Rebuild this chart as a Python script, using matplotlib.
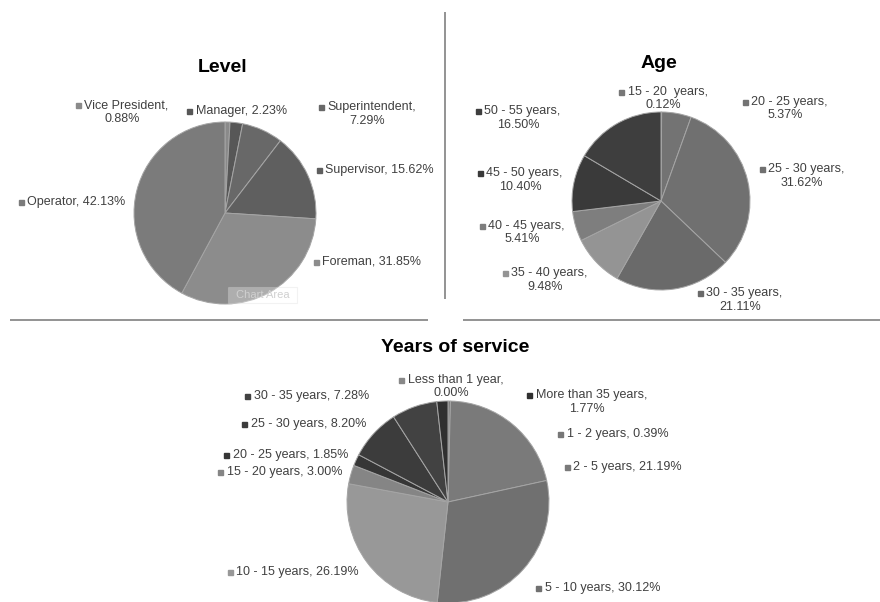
import matplotlib
matplotlib.use('agg')
import matplotlib.pyplot as plt

plt.rcParams['font.family'] = ['Liberation Sans', 'DejaVu Sans']

# data (clockwise from 12 o'clock)
level_names = ['Vice President', 'Manager', 'Superintendent', 'Supervisor', 'Foreman', 'Operator']
level_pcts = [0.88, 2.23, 7.29, 15.62, 31.85, 42.13]

age_names = ['15 - 20  years', '20 - 25 years', '25 - 30 years', '30 - 35 years',
             '35 - 40 years', '40 - 45 years', '45 - 50 years', '50 - 55 years']
age_pcts = [0.12, 5.37, 31.62, 21.11, 9.48, 5.41, 10.40, 16.50]

service_names = ['Less than 1 year', '1 - 2 years', '2 - 5 years', '5 - 10 years',
                 '10 - 15 years', '15 - 20 years', '20 - 25 years', '25 - 30 years',
                 '30 - 35 years', 'More than 35 years']
service_pcts = [0.00, 0.39, 21.19, 30.12, 26.19, 3.00, 1.85, 8.20, 7.28, 1.77]

# styles / layout (pixel coords, y down)
level_colors = ['#8a8a8a', '#575757', '#686868', '#5f5f5f', '#8c8c8c', '#7b7b7b']
age_colors = ['#777777', '#737373', '#707070', '#6a6a6a', '#949494', '#7e7e7e', '#3a3a3a', '#3e3e3e']
service_colors = ['#888888', '#777777', '#7a7a7a', '#707070', '#989898', '#858585',
                  '#363636', '#3c3c3c', '#424242', '#303030']

# label block centre x, first line y, wrapped onto two lines?
level_lab = [(122, 105, True), (237, 111, False), (367, 107, True),
             (375, 170, False), (367, 262, False), (72, 202, False)]
age_lab = [(663, 92, True), (785, 102, True), (802, 169, True), (740, 293, True),
           (545, 273, True), (522, 226, True), (520, 173, True), (518, 111, True)]
service_lab = [(451, 380, True), (613, 434, False), (623, 467, False), (598, 588, False),
               (293, 572, False), (280, 472, False), (286, 455, False), (304, 424, False),
               (307, 396, False), (587, 395, True)]

W, H = 880, 602
fig = plt.figure(figsize=(8.8, 6.02), dpi=100)
ax = fig.add_axes([0, 0, 1, 1])

TXT = '#404040'


def draw_pie(vals, colors, center, radius):
    # y axis is inverted, so start at -90 and go "counterclock" to look clockwise
    ax.pie(vals, colors=colors, center=center, radius=radius, startangle=-90,
           counterclock=True, normalize=True,
           wedgeprops=dict(edgecolor='#a5a5a5', linewidth=0.7))


draw_pie(level_pcts, level_colors, (225, 213), 91)
draw_pie(age_pcts, age_colors, (661, 201), 89)
draw_pie(service_pcts, service_colors, (448, 502), 101)

ax.set_xlim(0, W)
ax.set_ylim(H, 0)
ax.set_aspect('equal')
ax.axis('off')

# titles
ax.text(223, 67, 'Level', ha='center', va='center', fontsize=14, fontweight='bold', color='black')
ax.text(659, 64, 'Age', ha='center', va='center', fontsize=14, fontweight='bold', color='black')
ax.text(455, 347, 'Years of service', ha='center', va='center', fontsize=14, fontweight='bold', color='black')

# divider lines
ax.plot([445, 445], [12, 299], color='#8a8a8a', lw=1.3, solid_capstyle='butt')
ax.plot([10, 428], [320, 320], color='#8a8a8a', lw=1.3, solid_capstyle='butt')
ax.plot([463, 880], [320, 320], color='#8a8a8a', lw=1.3, solid_capstyle='butt')

renderer = fig.canvas.get_renderer()
SQ = 9  # room for the little square before the text


def draw_labels(names, vals, colors, layout):
    for name, v, c, (cx, y1, wrap) in zip(names, vals, colors, layout):
        pct = '%.2f%%' % v
        if wrap:
            line1, line2 = name + ',', pct
        else:
            line1, line2 = name + ', ' + pct, None
        t = ax.text(0, y1, line1, ha='left', va='center', fontsize=9, color=TXT)
        w = t.get_window_extent(renderer).width
        x0 = cx - (w + SQ) / 2
        t.set_x(x0 + SQ)
        ax.plot(x0 + 2.5, y1, marker='s', ms=3.6, color=c, mec=c)
        if line2:
            ax.text(cx, y1 + 13.5, line2, ha='center', va='center', fontsize=9, color=TXT)


draw_labels(level_names, level_pcts, level_colors, level_lab)
draw_labels(age_names, age_pcts, age_colors, age_lab)
draw_labels(service_names, service_pcts, service_colors, service_lab)

# the "Chart Area" tooltip left in the screenshot
ax.add_patch(plt.Rectangle((228, 287), 69, 16, facecolor='white', alpha=0.3,
                           edgecolor='#d5d5d5', lw=0.8, zorder=4))
ax.text(262.5, 295, 'Chart Area', ha='center', va='center', fontsize=8,
        color='#d0d0d0', zorder=5)

fig.savefig('out.png', dpi=100)
plt.close()
